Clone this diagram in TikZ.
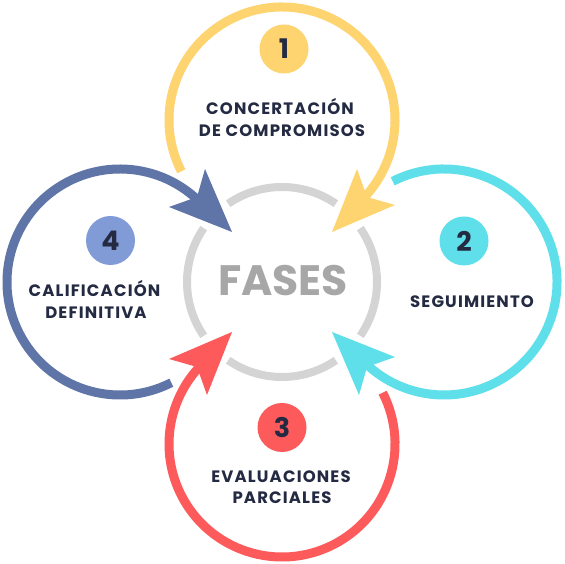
\documentclass[tikz,border=0pt]{standalone}
\usepackage{fontspec}
\setmainfont{Poppins}
\newfontfamily\lblfont[LetterSpace=7]{Poppins}
\begin{document}
\begin{tikzpicture}[x=1pt,y=1pt]
\definecolor{cyel}{HTML}{FDD470}
\definecolor{ccya}{HTML}{5FDFEA}
\definecolor{cred}{HTML}{FD5A5B}
\definecolor{cblu}{HTML}{5F74A7}
\definecolor{cbll}{HTML}{819BD6}
\definecolor{ink}{HTML}{232A42}
\definecolor{gring}{HTML}{D4D4D4}
\definecolor{gtext}{HTML}{A7A7A7}
\tikzset{
  ring/.style={line width=9pt},
  grayring/.style={line width=8pt, draw=gring},
  numdot/.style={circle, minimum size=49pt, inner sep=0pt, text=ink,
    font=\bfseries\fontsize{27}{27}\selectfont},
  lbl/.style={anchor=base, text=ink, inner sep=0pt,
    font=\lblfont\bfseries\fontsize{16.5}{16.5}\selectfont},
}
\useasboundingbox (0,0) rectangle (564,564);
\fill[white] (0,0) rectangle (564,564);
\coordinate (c) at (282,282);
% gray central ring
\foreach \a in {0,90,180,270}{
  \draw[grayring] (c) ++(\a-34.5:95) arc[start angle=\a-34.5, end angle=\a+34.5, radius=95];
}
% coloured rings with arrowheads
\foreach \r/\col in {0/cyel,90/cblu,180/cred,270/ccya}{
  \begin{scope}[shift={(c)}, rotate=\r]
    \draw[ring, draw=\col] (0,162) ++(207:113) arc[start angle=207, end angle=-45, radius=113];
    \fill[\col] (50,50) -- (75,113) -- (85,85) -- (113,77) -- cycle;
  \end{scope}
}
% number dots
\node[numdot, fill=cyel] (n1) at (284,515) {1};
\node[numdot, fill=ccya] (n2) at (464,323) {2};
\node[numdot, fill=cred] (n3) at (282,136.5) {3};
\node[numdot, fill=cbll] (n4) at (110.5,323.5) {4};
% labels
\node[lbl] (l1a) at (280,449) {CONCERTACIÓN};
\node[lbl] (l1b) at (282,427.5) {DE COMPROMISOS};
\node[lbl] (l2) at (472,256.5) {SEGUIMIENTO};
\node[lbl] (l3a) at (281,81.7) {EVALUACIONES};
\node[lbl] (l3b) at (282,60.7) {PARCIALES};
\node[lbl] (l4a) at (94.5,267.3) {CALIFICACIÓN};
\node[lbl] (l4b) at (96,245) {DEFINITIVA};
\node[anchor=base, inner sep=0pt, text=gtext, font=\bfseries\fontsize{42.5}{42.5}\selectfont] (fases) at (283,268) {FASES};
\end{tikzpicture}
\end{document}
